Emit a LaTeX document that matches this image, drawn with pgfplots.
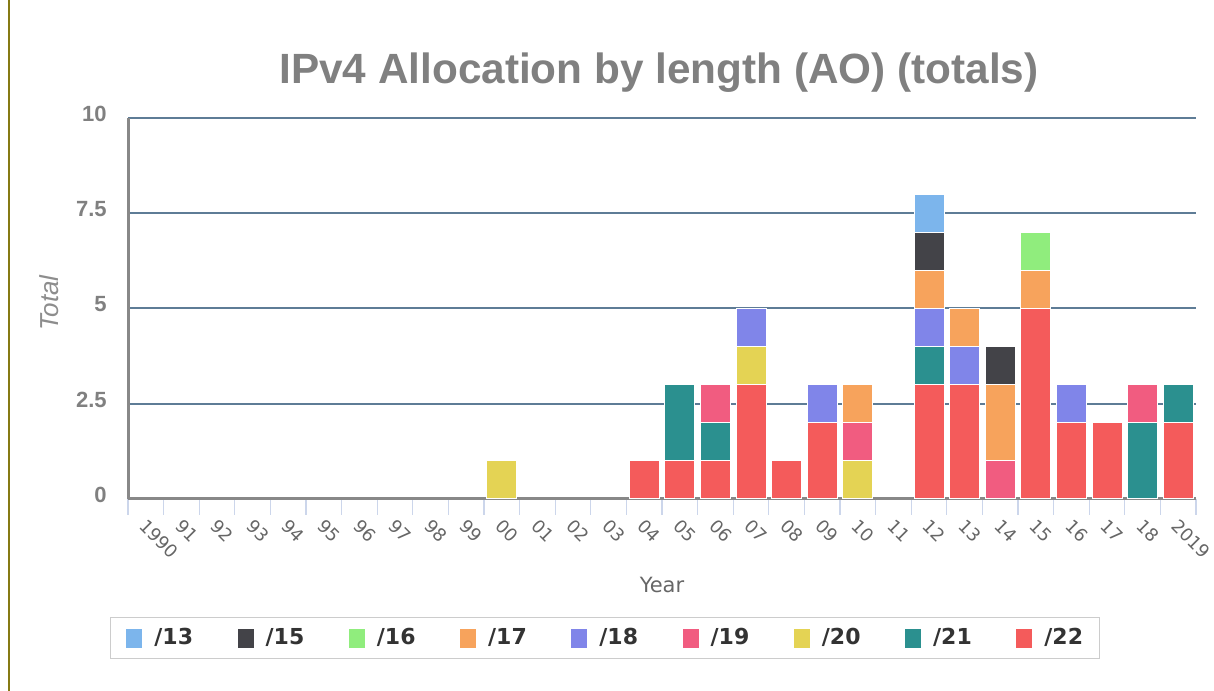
\documentclass[border=0pt]{standalone}
\usepackage{pgfplots}
\usepackage{pgfplotstable}
\pgfplotsset{compat=1.18}
\usepackage{fontspec}
\setmainfont{Liberation Sans}
\newfontfamily\dejavu{DejaVu Sans}

\definecolor{c13}{HTML}{7CB5EC}
\definecolor{c15}{HTML}{434348}
\definecolor{c16}{HTML}{90ED7D}
\definecolor{c17}{HTML}{F7A35C}
\definecolor{c18}{HTML}{8085E9}
\definecolor{c19}{HTML}{F15C80}
\definecolor{c20}{HTML}{E4D354}
\definecolor{c21}{HTML}{2B908F}
\definecolor{c22}{HTML}{F45B5B}
\definecolor{gridc}{HTML}{5E7C96}
\definecolor{axisc}{HTML}{888888}
\definecolor{tickc}{HTML}{CCD6EB}
\definecolor{labc}{HTML}{666666}
\definecolor{titlec}{HTML}{808080}
\definecolor{legc}{HTML}{CCCCCC}
\definecolor{legtext}{HTML}{333333}
\definecolor{olivec}{RGB}{134,122,20}

% allocations per year (x: 0 = 1990 ... 29 = 2019)
\pgfplotstableread{
x  p22 p21 p20 p19 p18 p17 p16 p15 p13
0  0 0 0 0 0 0 0 0 0
1  0 0 0 0 0 0 0 0 0
2  0 0 0 0 0 0 0 0 0
3  0 0 0 0 0 0 0 0 0
4  0 0 0 0 0 0 0 0 0
5  0 0 0 0 0 0 0 0 0
6  0 0 0 0 0 0 0 0 0
7  0 0 0 0 0 0 0 0 0
8  0 0 0 0 0 0 0 0 0
9  0 0 0 0 0 0 0 0 0
10 0 0 1 0 0 0 0 0 0
11 0 0 0 0 0 0 0 0 0
12 0 0 0 0 0 0 0 0 0
13 0 0 0 0 0 0 0 0 0
14 1 0 0 0 0 0 0 0 0
15 1 2 0 0 0 0 0 0 0
16 1 1 0 1 0 0 0 0 0
17 3 0 1 0 1 0 0 0 0
18 1 0 0 0 0 0 0 0 0
19 2 0 0 0 1 0 0 0 0
20 0 0 1 1 0 1 0 0 0
21 0 0 0 0 0 0 0 0 0
22 3 1 0 0 1 1 0 1 1
23 3 0 0 0 1 1 0 0 0
24 0 0 0 1 0 2 0 1 0
25 5 0 0 0 0 1 1 0 0
26 2 0 0 0 1 0 0 0 0
27 2 0 0 0 0 0 0 0 0
28 0 2 0 1 0 0 0 0 0
29 2 1 0 0 0 0 0 0 0
}\alloc

\begin{document}
\begin{tikzpicture}
\path[use as bounding box] (0,0) rectangle (607bp,345.5bp);
\draw[olivec, line width=1.3bp] (4.5bp,0) -- (4.5bp,345.5bp);
\begin{axis}[
  at={(64bp,96bp)}, anchor=south west,
  scale only axis, width=534bp, height=190.5bp,
  ybar stacked, bar width=15bp,
  xmin=-0.5, xmax=29.5, ymin=0, ymax=10,
  xtick={0,...,29},
  xticklabels={1990,91,92,93,94,95,96,97,98,99,00,01,02,03,04,05,06,07,08,09,10,11,12,13,14,15,16,17,18,2019},
  minor xtick={-0.5,0.5,...,29.5},
  ytick={0,2.5,5,7.5,10},
  yticklabels={0,2.5,5,7.5,10},
  ymajorgrids, grid style={gridc, line width=1bp},
  axis x line=bottom, axis y line=left,
  axis line style={axisc, line width=1.5bp, -},
  tick align=outside, major tick length=0pt, minor tick length=8bp,
  minor tick style={tickc, line width=0.6bp},
  xticklabel style={font=\dejavu\fontsize{8.9bp}{10bp}\selectfont, text=labc, inner sep=0pt,
    yshift=-9.5bp, xshift=1bp, rotate=-45, anchor=north west},
  yticklabel style={font=\bfseries\fontsize{11bp}{13bp}\selectfont, text=titlec, inner sep=0pt,
    xshift=-10.5bp, yshift=2bp, anchor=east},
  title={IPv4 Allocation by length (AO) (totals)},
  title style={font=\bfseries\fontsize{21.15bp}{25bp}\selectfont, text=titlec, at={(0.4972,1.058)}, anchor=base, yshift=0pt},
  xlabel={Year},
  xlabel style={font=\dejavu\fontsize{10.5bp}{12bp}\selectfont, text=labc, at={(0.5,-0.2467)}, anchor=base},
  ylabel={Total},
  ylabel style={font=\itshape\fontsize{13bp}{15bp}\selectfont, text=titlec!90, at={(-0.0655,0.514)}, anchor=base},
  legend columns=9, reverse legend,
  legend image code/.code={\fill[#1, draw=none] (0bp,-4.75bp) rectangle (8bp,4.75bp);},
  legend style={at={(-0.0169,-0.3097)}, anchor=north west, draw=legc, line width=0.5bp,
    font=\dejavu\bfseries\fontsize{11bp}{13bp}\selectfont, text=legtext,
    inner xsep=8bp, inner ysep=5.5bp, nodes={inner sep=0pt},
    /tikz/every odd column/.append style={column sep=6bp},
    /tikz/every even column/.append style={column sep=22.3bp}},
]
\addplot[fill=c22, draw=white, line width=0.5bp] table[x=x, y=p22] {\alloc};
\addlegendentry{/22}
\addplot[fill=c21, draw=white, line width=0.5bp] table[x=x, y=p21] {\alloc};
\addlegendentry{/21}
\addplot[fill=c20, draw=white, line width=0.5bp] table[x=x, y=p20] {\alloc};
\addlegendentry{/20}
\addplot[fill=c19, draw=white, line width=0.5bp] table[x=x, y=p19] {\alloc};
\addlegendentry{/19}
\addplot[fill=c18, draw=white, line width=0.5bp] table[x=x, y=p18] {\alloc};
\addlegendentry{/18}
\addplot[fill=c17, draw=white, line width=0.5bp] table[x=x, y=p17] {\alloc};
\addlegendentry{/17}
\addplot[fill=c16, draw=white, line width=0.5bp] table[x=x, y=p16] {\alloc};
\addlegendentry{/16}
\addplot[fill=c15, draw=white, line width=0.5bp] table[x=x, y=p15] {\alloc};
\addlegendentry{/15}
\addplot[fill=c13, draw=white, line width=0.5bp] table[x=x, y=p13] {\alloc};
\addlegendentry{/13}
% baseline redrawn over the white edges of empty bars
\draw[axisc, line width=1.5bp] (axis cs:-0.5,0) -- (axis cs:29.5,0);
\end{axis}
\end{tikzpicture}
\end{document}
